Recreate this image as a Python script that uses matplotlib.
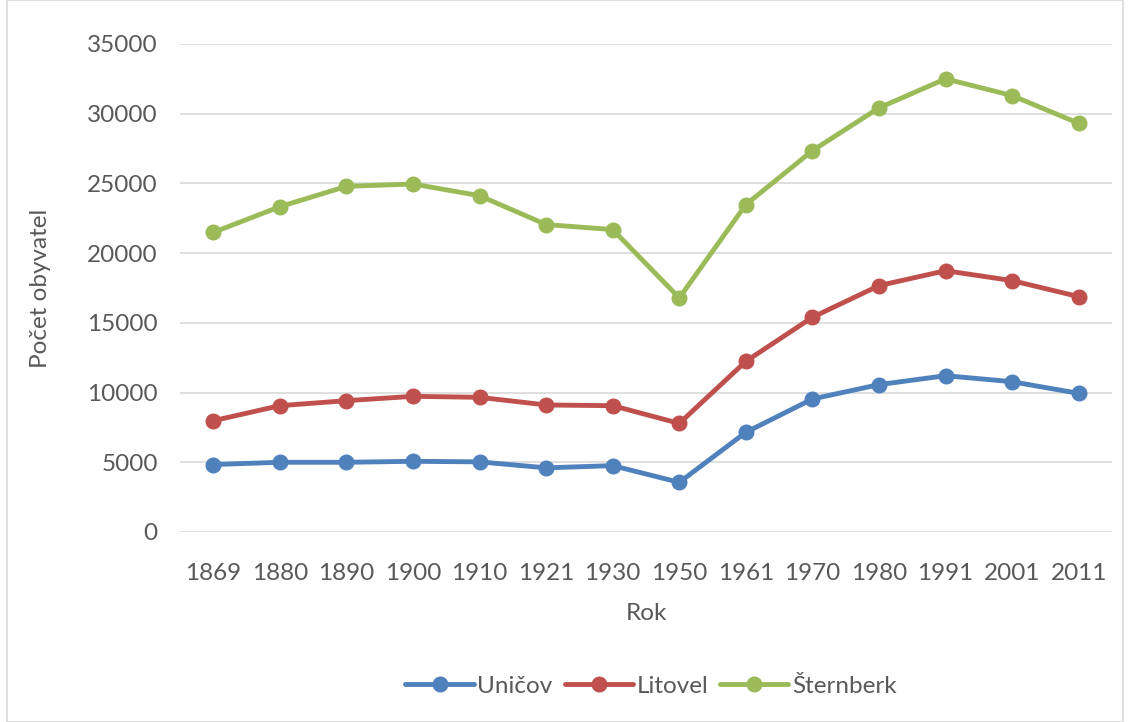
import matplotlib
matplotlib.use("Agg")
import matplotlib.pyplot as plt
from matplotlib.patches import Rectangle

years = ["1869", "1880", "1890", "1900", "1910", "1921", "1930", "1950",
         "1961", "1970", "1980", "1991", "2001", "2011"]
unicov = [4840, 5000, 5000, 5070, 5030, 4600, 4760, 3560, 7150, 9540, 10570, 11210, 10780, 9940]
litovel = [7980, 9060, 9420, 9730, 9660, 9110, 9060, 7790, 12240, 15400, 17670, 18740, 18030, 16880]
sternberk = [21490, 23330, 24790, 24960, 24120, 22050, 21690, 16790, 23480, 27350, 30420, 32500, 31300, 29310]
series_names = ["Uničov", "Litovel", "Šternberk"]
colors = ["#4F81BD", "#C0504D", "#9BBB59"]

plt.rcParams['font.family'] = ['Lato', 'DejaVu Sans']
txt = "#595959"
fs = 17.5

fig = plt.figure(figsize=(11.3, 7.22), dpi=100)
ax = fig.add_axes([180/1130, 1-532/722, (1112-180)/1130, (532-44)/722])

x = list(range(len(years)))
for vals, name, c in zip([unicov, litovel, sternberk], series_names, colors):
    ax.plot(x, vals, color=c, lw=3.5, marker='o', markersize=10.5, label=name,
            solid_capstyle='round', zorder=3)

ax.set_xlim(-0.5, len(years) - 0.5)
ax.set_ylim(0, 35000)
ax.set_yticks(range(0, 35001, 5000))
ax.set_xticks(x)
ax.set_xticklabels(years)
ax.tick_params(axis='both', length=0, labelsize=fs, colors=txt)
ax.tick_params(axis='y', pad=16)
ax.tick_params(axis='x', pad=22)
ax.grid(axis='y', color='#D9D9D9', lw=1.2, zorder=0)
for s in ax.spines.values():
    s.set_visible(False)
ax.set_axisbelow(True)

ax.set_xlabel("Rok", fontsize=fs, color=txt, labelpad=14)
ax.set_ylabel("Počet obyvatel", fontsize=fs, color=txt, labelpad=26)

leg = fig.legend(loc='center', bbox_to_anchor=(651/1130, 1-686/722), ncol=3,
                 frameon=False, fontsize=fs, labelcolor=txt, handlelength=2.8,
                 columnspacing=0.5, handletextpad=0.15)

fig.patches.append(Rectangle((7/1130, 0.0), 1-14/1130, 1.0, transform=fig.transFigure,
                             fill=False, edgecolor='#D9D9D9', lw=1.2))

fig.savefig("out.png", dpi=100)
